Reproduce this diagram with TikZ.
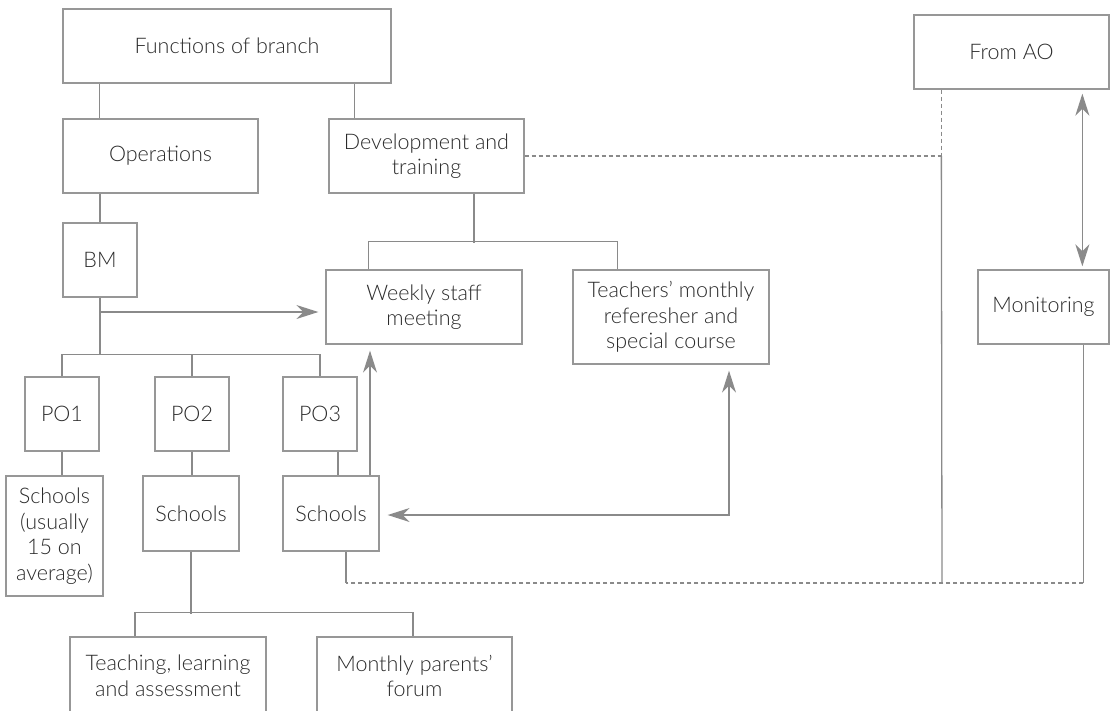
\documentclass[tikz,border=0pt]{standalone}
\usepackage{fontspec}
\setmainfont{Lato}[UprightFont=* Light]
\usetikzlibrary{arrows.meta}
\definecolor{boxc}{HTML}{979797}
\definecolor{linec}{HTML}{8A8A8A}
\definecolor{txtc}{HTML}{2A2A2A}
\tikzset{
  bx/.style={draw=boxc, line width=1.3pt, align=center, text=txtc, inner sep=2pt,
     minimum height=74pt, font=\fontsize{21.5}{25.5}\selectfont},
  ln/.style={draw=linec, line width=1.3pt},
  dsh/.style={draw=linec, line width=1.1pt, dash pattern=on 4pt off 3pt},
  arr/.style={ln, -{Stealth[length=22pt,width=14pt,inset=7pt]}},
  arrb/.style={ln, {Stealth[length=22pt,width=14pt,inset=7pt]}-{Stealth[length=22pt,width=14pt,inset=7pt]}},
}
\begin{document}
\begin{tikzpicture}[x=1pt,y=-1pt]
\useasboundingbox (0,0) rectangle (1113,710);
\clip (0,0) rectangle (1113,710);
% boxes
\node[bx, minimum width=328pt] (fb) at (227,46) {Functions of branch};
\node[bx, minimum width=195pt] (ops) at (160.5,156) {Operations};
\node[bx, minimum width=195pt] (dev) at (426.5,156) {Development and\\training};
\node[bx, minimum width=195pt] (ao) at (1011.5,52) {From AO};
\node[bx, minimum width=74pt] (bm) at (100,260) {BM};
\node[bx, minimum width=196pt] (wk) at (424,307) {Weekly staff\\meeting};
\node[bx, minimum width=196pt, minimum height=94pt] (tc) at (671,317) {Teachers’ monthly\\referesher and\\special course};
\node[bx, minimum width=131pt] (mon) at (1043.5,307) {Monitoring};
\node[bx, minimum width=74pt] (po1) at (62,414) {PO1};
\node[bx, minimum width=74pt] (po2) at (192,414) {PO2};
\node[bx, minimum width=74pt] (po3) at (320,414) {PO3};
\node[bx, minimum width=97pt, minimum height=120pt] (s1) at (54.5,536) {Schools\\(usually\\15 on\\average)};
\node[bx, minimum width=96pt, minimum height=75pt] (s2) at (191,513.5) {Schools};
\node[bx, minimum width=96pt, minimum height=75pt] (s3) at (331,513.5) {Schools};
\node[bx, minimum width=196pt, minimum height=78pt] (tla) at (168,676) {Teaching, learning\\and assessment};
\node[bx, minimum width=195pt, minimum height=78pt] (mpf) at (414.5,676) {Monthly parents’\\forum};
% helper coordinates
\coordinate (fo) at ([xshift=37pt]ops.north west);
\coordinate (fd) at ([xshift=26pt]dev.north west);
\coordinate (jb) at (100,355);
\coordinate (ja) at (100,312);
\coordinate (p3b) at ([xshift=18pt]po3.south);
\coordinate (s3u) at ([xshift=39pt]s3.north);
\coordinate (tcb) at ([xshift=58pt]tc.south);
\coordinate (jt) at (729,515);
\coordinate (dv) at ([xshift=47.5pt]dev.south);
\coordinate (wkt) at ([xshift=43pt]wk.north west);
\coordinate (tct) at ([xshift=45pt]tc.north west);
\coordinate (aob) at ([xshift=28pt]ao.south west);
\coordinate (jx) at (aob |- dev.east);
\coordinate (jbot) at (942,583);
\coordinate (aod) at ([xshift=169pt]ao.south west);
\coordinate (mb) at ([xshift=106pt]mon.south west);
\coordinate (s3d) at ([xshift=15pt]s3.south);
% connectors
\draw[ln] (fo) -- (fo |- fb.south);
\draw[ln] (fd) -- (fd |- fb.south);
\draw[ln] (bm.north) -- (bm.north |- ops.south);
\draw[ln] (bm.south) -- (jb);
\draw[ln] (po1.north) -- ++(0,-22) -| (po3.north);
\draw[ln] (po2.north) -- ++(0,-22);
\draw[arr, shorten >=7pt] (ja) -- (ja -| wk.west);
\draw[ln] (po1.south) -- (po1.south |- s1.north);
\draw[ln] (po2.south) -- (po2.south |- s2.north);
\draw[ln] (p3b) -- (p3b |- s3.north);
\draw[arr, shorten >=6pt] (s3u) -- (s3u |- wk.south);
\draw[arrb, shorten <=8pt, shorten >=6pt] (jt -| s3.east) -- (jt) -- (tcb);
\draw[ln] (dv) -- ++(0,49);
\draw[ln] (wkt) -- ++(0,-28) -| (tct);
\draw[ln] (s2.south) -- ++(0,62);
\draw[ln] ([xshift=-33pt]tla.north) -- ++(0,-24) -| ([xshift=-1.5pt]mpf.north);
\draw[dsh] (dev.east) -- (jx);
\draw[dsh] (aob) -- (jx);
\draw[ln] (jx) -- (jbot);
\draw[arrb, shorten <=4pt, shorten >=3pt] (aod) -- (aod |- mon.north);
\draw[ln] (mb) -- (mb |- jbot);
\draw[dsh] (mb |- jbot) -- (s3d |- jbot);
\draw[ln] (s3d |- jbot) -- (s3d);
\end{tikzpicture}
\end{document}
